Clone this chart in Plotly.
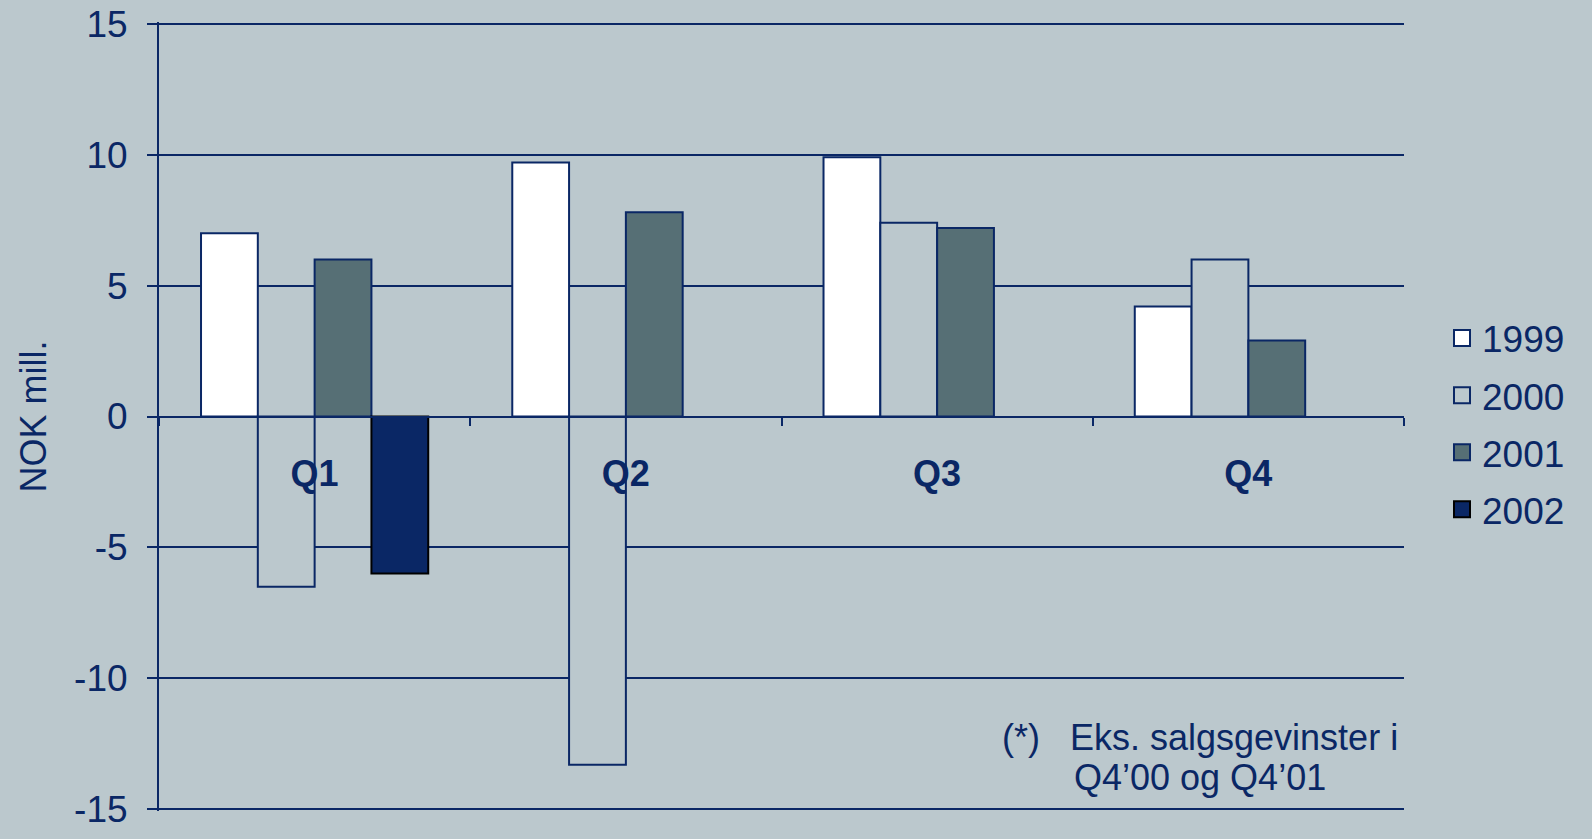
import plotly.graph_objects as go

quarters = ["Q1", "Q2", "Q3", "Q4"]
years = ["1999", "2000", "2001", "2002"]
v1999 = [7.0, 9.7, 9.9, 4.2]
v2000 = [-6.5, -13.3, 7.4, 6.0]
v2001 = [6.0, 7.8, 7.2, 2.9]
v2002 = [-6.0, None, None, None]
series = [v1999, v2000, v2001, v2002]
ytick_vals = [-15, -10, -5, 0, 5, 10, 15]
ytick_text = ["-15", "-10", "-5", "0", "5", "10", "15"]

BG = "#BBC8CD"
NAVY = "#0A2765"
fills = ["#FFFFFF", BG, "#566F75", "#0A2765"]
outlines = [NAVY, NAVY, NAVY, "#000000"]
FONT = "Liberation Sans, Arial, sans-serif"

fig = go.Figure()
for name, vals, fc, lc in zip(years, series, fills, outlines):
    fig.add_trace(go.Bar(
        x=quarters, y=vals, name=name, showlegend=False,
        marker=dict(color=fc, line=dict(color=lc, width=2)),
    ))
# legend entries (larger square symbols)
for name, fc, lc in zip(years, fills, outlines):
    fig.add_trace(go.Scatter(
        x=[None], y=[None], mode="markers", name=name, legendgroup=name,
        marker=dict(symbol="square", size=22, color=fc, line=dict(color=lc, width=2)),
    ))

fig.update_layout(
    width=1592, height=839,
    margin=dict(l=159, r=188, t=22, b=28, autoexpand=False),
    paper_bgcolor=BG, plot_bgcolor=BG,
    font=dict(family=FONT, size=36, color=NAVY),
    barmode="group", bargap=0.27, bargroupgap=0,
    legend=dict(
        xref="container", yref="container", x=1442 / 1592, y=1 - 424 / 839,
        xanchor="left", yanchor="middle", bgcolor="rgba(0,0,0,0)",
        font=dict(size=37, color=NAVY), tracegroupgap=6, itemsizing="trace",
    ),
    xaxis=dict(
        type="category", anchor="free", position=0.5, automargin=False,
        showline=True, linecolor=NAVY, linewidth=2,
        ticks="outside", tickson="boundaries", ticklen=8, tickwidth=2, tickcolor=NAVY,
        tickfont=dict(family=FONT, size=36, color=NAVY, weight="bold"),
        ticklabelstandoff=25, showgrid=False,
    ),
    yaxis=dict(
        range=[-15.07, 15.07], tickmode="array", tickvals=ytick_vals, ticktext=ytick_text,
        automargin=False,
        showline=True, linecolor=NAVY, linewidth=2,
        ticks="outside", ticklen=10, tickwidth=2, tickcolor=NAVY,
        showgrid=True, gridcolor=NAVY, gridwidth=2, zeroline=False,
        tickfont=dict(family=FONT, size=37, color=NAVY),
        title=dict(text="NOK mill.", font=dict(family=FONT, size=36, color=NAVY), standoff=17),
        ticklabelstandoff=12,
    ),
)

fig.add_annotation(text="(*)", xref="paper", yref="paper",
                   x=(1000 - 159) / 1245, y=(811 - 737) / 789,
                   xanchor="left", yanchor="middle", showarrow=False,
                   font=dict(family=FONT, size=36, color=NAVY))
fig.add_annotation(text="Eks. salgsgevinster i", xref="paper", yref="paper",
                   x=(1068 - 159) / 1245, y=(811 - 737) / 789,
                   xanchor="left", yanchor="middle", showarrow=False,
                   font=dict(family=FONT, size=36, color=NAVY))
fig.add_annotation(text="Q4’00 og Q4’01", xref="paper", yref="paper",
                   x=(1072 - 159) / 1245, y=(811 - 777) / 789,
                   xanchor="left", yanchor="middle", showarrow=False,
                   font=dict(family=FONT, size=36, color=NAVY))

fig.write_html("out.html", config={"displayModeBar": False})
with open("out.html", "r", encoding="utf-8") as f:
    html = f.read()
html = html.replace("<head>", "<head><style>html,body{margin:0;padding:0;overflow:hidden;background:%s}</style>" % BG, 1)
with open("out.html", "w", encoding="utf-8") as f:
    f.write(html)
